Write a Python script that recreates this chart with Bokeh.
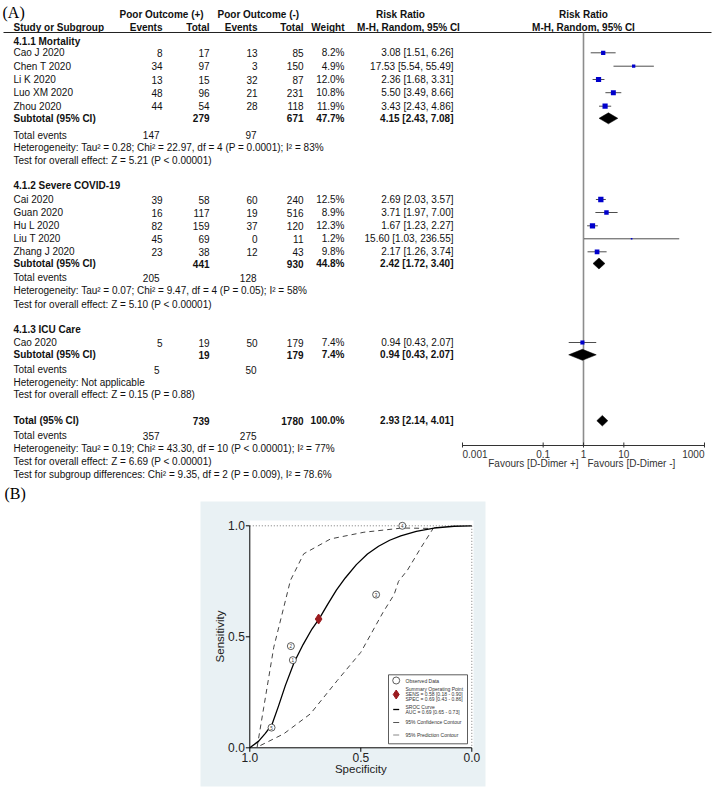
import numpy as np
from bokeh.plotting import figure
from bokeh.models import Range1d, LogScale, ColumnDataSource
from bokeh.core.properties import value
from bokeh.embed import file_html
from bokeh.resources import INLINE

# ---------------- Panel A data ----------------
group_titles = ["4.1.1 Mortality", "4.1.2 Severe COVID-19", "4.1.3 ICU Care"]
studies = ["Cao J 2020", "Chen T 2020", "Li K 2020", "Luo XM 2020", "Zhou 2020",
           "Cai 2020", "Guan 2020", "Hu L 2020", "Liu T 2020", "Zhang J 2020", "Cao 2020"]
events_pos = [8, 34, 13, 48, 44, 39, 16, 82, 45, 23, 5]
total_pos = [17, 97, 15, 96, 54, 58, 117, 159, 69, 38, 19]
events_neg = [13, 3, 32, 21, 28, 60, 19, 37, 0, 12, 50]
total_neg = [85, 150, 87, 231, 118, 240, 516, 120, 11, 43, 179]
weights = [8.2, 4.9, 12.0, 10.8, 11.9, 12.5, 8.9, 12.3, 1.2, 9.8, 7.4]
rr = [3.08, 17.53, 2.36, 5.50, 3.43, 2.69, 3.71, 1.67, 15.60, 2.17, 0.94]
rr_lo = [1.51, 5.54, 1.68, 3.49, 2.43, 2.03, 1.97, 1.23, 1.03, 1.26, 0.43]
rr_hi = [6.26, 55.49, 3.31, 8.66, 4.86, 3.57, 7.00, 2.27, 236.55, 3.74, 2.07]

sub_total_pos = [279, 441, 19]
sub_total_neg = [671, 930, 179]
sub_weight = [47.7, 44.8, 7.4]
sub_rr = [4.15, 2.42, 0.94]
sub_lo = [2.43, 1.72, 0.43]
sub_hi = [7.08, 3.40, 2.07]
sub_events_pos = [147, 205, 5]
sub_events_neg = [97, 128, 50]
sub_heterogeneity = ["Heterogeneity: Tau² = 0.28; Chi² = 22.97, df = 4 (P = 0.0001); I² = 83%",
                     "Heterogeneity: Tau² = 0.07; Chi² = 9.47, df = 4 (P = 0.05); I² = 58%",
                     "Heterogeneity: Not applicable"]
sub_effect = ["Test for overall effect: Z = 5.21 (P < 0.00001)",
              "Test for overall effect: Z = 5.10 (P < 0.00001)",
              "Test for overall effect: Z = 0.15 (P = 0.88)"]
total_pos_all = 739
total_neg_all = 1780
total_weight = 100.0
total_rr = 2.93
total_lo = 2.14
total_hi = 4.01
total_events_pos = 357
total_events_neg = 275
total_heterogeneity = "Heterogeneity: Tau² = 0.19; Chi² = 43.30, df = 10 (P < 0.00001); I² = 77%"
total_effect = "Test for overall effect: Z = 6.69 (P < 0.00001)"
subgroup_diff = "Test for subgroup differences: Chi² = 9.35, df = 2 (P = 0.009), I² = 78.6%"
axis_ticks = [0.001, 0.1, 1, 10, 1000]
axis_tick_labels = ["0.001", "0.1", "1", "10", "1000"]
favours_labels = ["Favours [D-Dimer +]", "Favours [D-Dimer -]"]

# ---------------- Panel B data ----------------
obs_spec = [0.902, 0.815, 0.806, 0.431, 0.313]
obs_sens = [0.091, 0.458, 0.395, 0.690, 1.000]
obs_labels = ["5", "2", "1", "3", "4"]
summary_sens = 0.58
summary_sens_ci = (0.18, 0.90)
summary_spec = 0.69
summary_spec_ci = (0.43, 0.86)
auc = 0.69
auc_ci = (0.65, 0.73)
sroc_spec = [1.0, 0.96, 0.93, 0.90, 0.87, 0.84, 0.80, 0.76, 0.72, 0.687, 0.65, 0.61, 0.57,
             0.52, 0.47, 0.42, 0.37, 0.32, 0.25, 0.17, 0.08, 0.0]
sroc_sens = [0.0, 0.03, 0.065, 0.105, 0.19, 0.28, 0.385, 0.465, 0.535, 0.582, 0.645, 0.71, 0.765,
             0.825, 0.873, 0.908, 0.935, 0.955, 0.975, 0.99, 0.998, 1.0]
conf_spec = [0.967, 0.937, 0.892, 0.847, 0.817, 0.757, 0.636, 0.486, 0.313, 0.174,
             0.23, 0.29, 0.33, 0.35, 0.40, 0.45, 0.50, 0.606, 0.727, 0.847, 0.967]
conf_sens = [0.003, 0.183, 0.453, 0.633, 0.754, 0.874, 0.941, 0.971, 0.99, 0.988,
             0.90, 0.80, 0.75, 0.69, 0.61, 0.52, 0.43, 0.303, 0.153, 0.063, 0.003]
pred_spec = [1.0, 0.0, 0.0]
pred_sens = [1.0, 1.0, 0.0]
b_ticks = [0.0, 0.5, 1.0]
b_tick_labels = ["0.0", "0.5", "1.0"]

# ---------------- layout (page pixel coordinates) ----------------
W, H = 715, 788
OX, OY = 0, 0
FONT = "Liberation Sans"
FS = "10px"

p = figure(width=W, height=H, x_range=Range1d(OX, OX + W), y_range=Range1d(OY + H, OY),
           x_axis_type=None, y_axis_type=None, output_backend="svg", toolbar_location=None,
           min_border=0, min_border_left=0, min_border_right=0, min_border_top=0, min_border_bottom=0)
p.grid.visible = False
p.outline_line_color = None
p.background_fill_color = "white"
p.border_fill_color = "white"

# log range for the forest plot: 1 at X_ONE, DEC px per decade
X_ONE, DEC = 583.0, 40.33
p.extra_x_ranges = {
    "rr": Range1d(10 ** ((OX - X_ONE) / DEC), 10 ** ((OX + W - X_ONE) / DEC)),
}
p.extra_x_scales = {"rr": LogScale()}

# SROC ranges: spec 1 at X 249.3, 0 at 471.3 ; sens 0 at Y 747.3, 1 at 525.3
SX1, SY0, SU = 249.3, 747.3, 222.0
def spec_at(X):
    return 1 - (X - SX1) / SU
def sens_at(Y):
    return (SY0 - Y) / SU
p.extra_x_ranges["spec"] = Range1d(spec_at(OX), spec_at(OX + W))
p.extra_y_ranges = {"sens": Range1d(sens_at(OY + H), sens_at(OY))}


def txt(x, y, t, size=FS, align="left", bold=False, font=FONT, color="#111111",
        angle=0.0, baseline="middle", xr=None, yr=None):
    src = ColumnDataSource(dict(x=list(x), y=list(y), t=[str(s) for s in t]))
    kw = {}
    if xr:
        kw["x_range_name"] = xr
    if yr:
        kw["y_range_name"] = yr
    p.text("x", "y", "t", source=src, text_font=value(font), text_font_size=size,
           text_align=align, text_baseline=baseline,
           text_font_style="bold" if bold else "normal", text_color=color, angle=angle, **kw)


# ---------------- Panel A ----------------
txt([2], [12], ["(A)"], size="16px", font="Liberation Serif", color="black")

# column anchors
C_NAME, C_EP, C_TP, C_EN, C_TN, C_W, C_RR = 13, 162, 209, 257, 303, 344, 453
C_TE_P, C_TE_N = 159, 256

txt([119, 217], [14, 14], ["Poor Outcome (+)", "Poor Outcome (-)"], bold=True)
txt([400, 583], [14, 14], ["Risk Ratio", "Risk Ratio"], bold=True, align="center")
txt([C_NAME], [27], ["Study or Subgroup"], bold=True)
txt([C_EP, C_TP, C_EN, C_TN, C_W], [27] * 5, ["Events", "Total", "Events", "Total", "Weight"],
    bold=True, align="right")
txt([408, 583], [27, 27], ["M-H, Random, 95% CI", "M-H, Random, 95% CI"], bold=True, align="center")
p.segment(x0=[3], x1=[711], y0=[32], y1=[32], line_color="#222222", line_width=1)

# row layout
group_y = [41, 184.5, 329]
study_y = [52.3, 65.7, 79, 92.2, 105.7, 199, 212, 225.3, 238.3, 251.3, 342]
subtotal_y = [117.8, 263, 354.3]
tev_y = [134.5, 277, 369.3]
het_y = [147.3, 290.3, 381.7]
eff_y = [160.3, 304.2, 394.3]
TOTAL_Y, TOTAL_EV_Y, TOTAL_HET_Y, TOTAL_EFF_Y, DIFF_Y = 420.2, 435, 448, 461, 474
AXIS_Y = 445

txt([C_NAME] * 3, group_y, group_titles, bold=True)
txt([C_NAME] * len(studies), study_y, studies)
txt([C_EP] * 11, study_y, events_pos, align="right")
txt([C_TP] * 11, study_y, total_pos, align="right")
txt([C_EN] * 11, study_y, events_neg, align="right")
txt([C_TN] * 11, study_y, total_neg, align="right")
txt([C_W] * 11, study_y, [f"{w:.1f}%" for w in weights], align="right")
txt([C_RR] * 11, study_y, [f"{a:.2f} [{b:.2f}, {c:.2f}]" for a, b, c in zip(rr, rr_lo, rr_hi)],
    align="right")

txt([C_NAME] * 3, subtotal_y, ["Subtotal (95% CI)"] * 3, bold=True)
txt([C_TP] * 3, subtotal_y, sub_total_pos, bold=True, align="right")
txt([C_TN] * 3, subtotal_y, sub_total_neg, bold=True, align="right")
txt([C_W] * 3, subtotal_y, [f"{w:.1f}%" for w in sub_weight], bold=True, align="right")
txt([C_RR] * 3, subtotal_y, [f"{a:.2f} [{b:.2f}, {c:.2f}]" for a, b, c in zip(sub_rr, sub_lo, sub_hi)],
    bold=True, align="right")
txt([C_NAME] * 3, tev_y, ["Total events"] * 3)
txt([C_TE_P] * 3, tev_y, sub_events_pos, align="right")
txt([C_TE_N] * 3, tev_y, sub_events_neg, align="right")
txt([C_NAME] * 3, het_y, sub_heterogeneity)
txt([C_NAME] * 3, eff_y, sub_effect)

txt([C_NAME], [TOTAL_Y], ["Total (95% CI)"], bold=True)
txt([C_TP], [TOTAL_Y], [total_pos_all], bold=True, align="right")
txt([C_TN], [TOTAL_Y], [total_neg_all], bold=True, align="right")
txt([C_W], [TOTAL_Y], [f"{total_weight:.1f}%"], bold=True, align="right")
txt([C_RR], [TOTAL_Y], [f"{total_rr:.2f} [{total_lo:.2f}, {total_hi:.2f}]"], bold=True, align="right")
txt([C_NAME], [TOTAL_EV_Y], ["Total events"])
txt([C_TE_P], [TOTAL_EV_Y], [total_events_pos], align="right")
txt([C_TE_N], [TOTAL_EV_Y], [total_events_neg], align="right")
txt([C_NAME] * 3, [TOTAL_HET_Y, TOTAL_EFF_Y, DIFF_Y], [total_heterogeneity, total_effect, subgroup_diff])

# forest graphics
p.segment(x0=[1], x1=[1], y0=[32], y1=[AXIS_Y], x_range_name="rr", line_color="#8c8c8c", line_width=1.6)
p.segment(x0=rr_lo, x1=rr_hi, y0=study_y, y1=study_y, x_range_name="rr", line_color="#4d4d4d", line_width=1)
p.scatter(x=rr, y=study_y, marker="square", size=[1.5 * np.sqrt(w) for w in weights],
          fill_color="#0000cc", line_color=None, x_range_name="rr")

def diamonds(est, lo, hi, ys, h):
    xs = [[a, b, c, b] for a, b, c in zip(lo, est, hi)]
    yy = [[y, y - h, y, y + h] for y in ys]
    p.patches(xs=xs, ys=yy, x_range_name="rr", fill_color="black", line_color="black", line_width=0.5)

diamonds(sub_rr, sub_lo, sub_hi, subtotal_y, 5.5)
diamonds([total_rr], [total_lo], [total_hi], [TOTAL_Y], 5.3)

# forest axis
p.segment(x0=[axis_ticks[0]], x1=[axis_ticks[-1]], y0=[AXIS_Y], y1=[AXIS_Y], x_range_name="rr",
          line_color="#333333", line_width=1)
p.segment(x0=axis_ticks, x1=axis_ticks, y0=[AXIS_Y - 3] * 5, y1=[AXIS_Y + 2] * 5, x_range_name="rr",
          line_color="#333333", line_width=1)
tick_align = ["left", "center", "center", "center", "right"]
for t, lab, al in zip(axis_ticks, axis_tick_labels, tick_align):
    txt([t], [453.5], [lab], align=al, xr="rr", color="#333333")
txt([578], [462.8], [favours_labels[0]], align="right", color="#333333")
txt([587], [462.8], [favours_labels[1]], align="left", color="#333333")

# ---------------- Panel B ----------------
txt([4], [493], ["(B)"], size="16px", font="Liberation Serif", color="black")
p.quad(left=[200], right=[485], top=[501], bottom=[786], fill_color="#e9f1f4", line_color=None)
p.quad(left=[SX1], right=[473], top=[520], bottom=[SY0], fill_color="white", line_color=None)

# prediction contour (dotted)
p.line(pred_spec, pred_sens, x_range_name="spec", y_range_name="sens", line_color="#777777",
       line_width=1, line_dash="1 2")
# confidence contour (dashed)
p.line(conf_spec, conf_sens, x_range_name="spec", y_range_name="sens", line_color="#444444",
       line_width=1, line_dash="5 4")
# SROC curve
p.line(sroc_spec, sroc_sens, x_range_name="spec", y_range_name="sens", line_color="black", line_width=1.3)

# axes
p.segment(x0=[1.0], x1=[1.0], y0=[0.0], y1=[1.0], x_range_name="spec", y_range_name="sens",
          line_color="black", line_width=1)
p.segment(x0=[1.0], x1=[0.0], y0=[0.0], y1=[0.0], x_range_name="spec", y_range_name="sens",
          line_color="black", line_width=1)
p.segment(x0=[SX1 - 4] * 3, x1=[SX1] * 3, y0=b_ticks, y1=b_ticks, y_range_name="sens",
          line_color="black", line_width=1)
p.segment(x0=b_ticks, x1=b_ticks, y0=[SY0] * 3, y1=[SY0 + 4] * 3, x_range_name="spec",
          line_color="black", line_width=1)
txt([SX1 - 5] * 3, b_ticks, b_tick_labels, size="12px", align="right", yr="sens", color="#222222")
txt(b_ticks, [SY0 + 10] * 3, b_tick_labels, size="12px", align="center", xr="spec", color="#222222")
txt([360.3], [768], ["Specificity"], size="11.5px", align="center", color="#222222")
txt([219], [636], ["Sensitivity"], size="11.5px", align="center", color="#222222", angle=np.pi / 2)

# observed data
p.scatter(x=obs_spec, y=obs_sens, x_range_name="spec", y_range_name="sens", marker="circle", size=7,
          fill_color="white", line_color="#333333", line_width=0.8)
txt(obs_spec, obs_sens, obs_labels, size="4.5px", align="center", xr="spec", yr="sens", color="#333333")
# summary point
p.scatter(x=[summary_spec], y=[summary_sens], x_range_name="spec", y_range_name="sens", marker="diamond",
          size=10, fill_color="#9b1b1f", line_color="#9b1b1f")

# legend
p.quad(left=[388], right=[467], top=[674.3], bottom=[743.3], fill_color="white", line_color="#333333",
       line_width=0.8)
LX_SYM, LX_TXT = 395.7, 405
p.scatter(x=[LX_SYM], y=[680], marker="circle", size=7, fill_color="white", line_color="#333333",
          line_width=0.8)
p.scatter(x=[LX_SYM], y=[694], marker="diamond", size=9, fill_color="#9b1b1f", line_color="#9b1b1f")
p.segment(x0=[LX_SYM - 3] * 3, x1=[LX_SYM + 3] * 3, y0=[709, 722, 734.5], y1=[709, 722, 734.5],
          line_color=["black", "#555555", "#888888"], line_width=[1.3, 1, 1])
legend_text = ["Observed Data",
               "Summary Operating Point",
               f"SENS = {summary_sens:.2f} [{summary_sens_ci[0]:.2f} - {summary_sens_ci[1]:.2f}]",
               f"SPEC = {summary_spec:.2f} [{summary_spec_ci[0]:.2f} - {summary_spec_ci[1]:.2f}]",
               "SROC Curve",
               f"AUC = {auc:.2f} [{auc_ci[0]:.2f} - {auc_ci[1]:.2f}]",
               "95% Confidence Contour",
               "95% Prediction Contour"]
legend_y = [680, 688.8, 693.5, 698.2, 706.7, 711.4, 721.8, 734.4]
txt([LX_TXT] * len(legend_text), legend_y, legend_text, size="5px", color="#333333")

open("out.html", "w").write(file_html(p, INLINE))
